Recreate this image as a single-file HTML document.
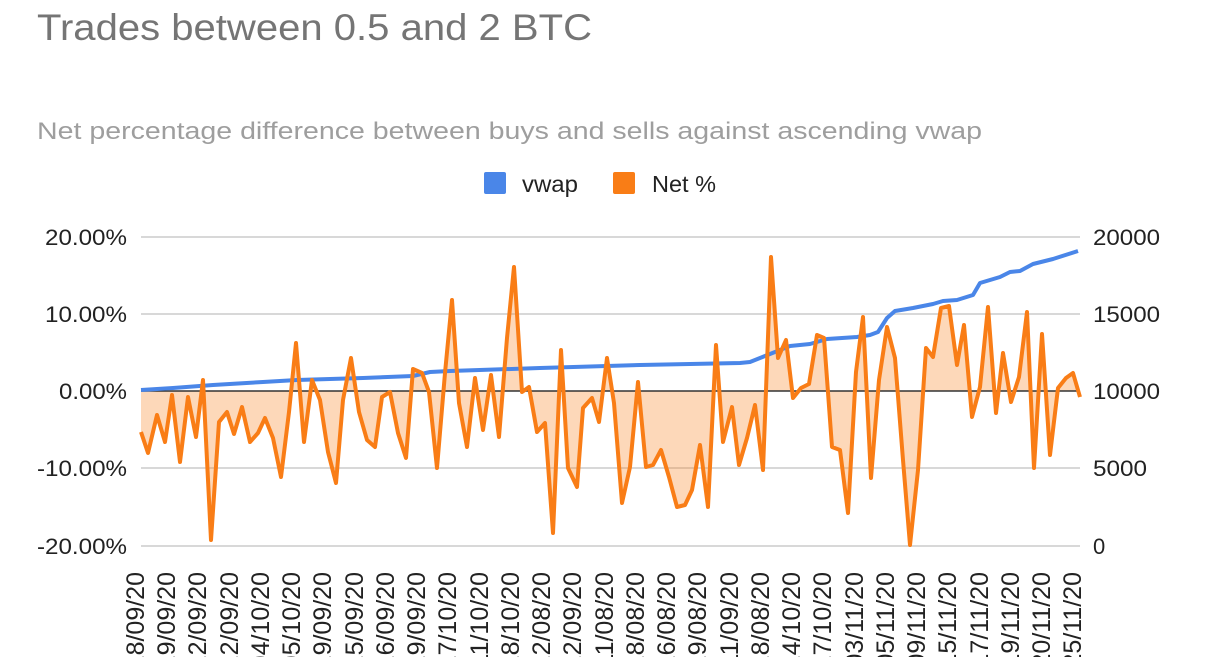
<!DOCTYPE html>
<html><head><meta charset="utf-8"><style>
html,body{margin:0;padding:0;background:#fff;}
svg{display:block;font-family:"Liberation Sans",Arial,sans-serif;}
</style></head><body>
<svg width="1207" height="657" viewBox="0 0 1207 657">
<text x="37" y="40" font-size="37" fill="#757575" textLength="555" lengthAdjust="spacingAndGlyphs">Trades between 0.5 and 2 BTC</text>
<text x="37" y="139" font-size="24" fill="#9e9e9e" textLength="945" lengthAdjust="spacingAndGlyphs">Net percentage difference between buys and sells against ascending vwap</text>
<rect x="484" y="172" width="22" height="22" rx="2" fill="#4a86e8"/>
<text x="522" y="192" font-size="23" fill="#222" textLength="56" lengthAdjust="spacingAndGlyphs">vwap</text>
<rect x="613" y="172" width="22" height="22" rx="2" fill="#f97d16"/>
<text x="652" y="192" font-size="23" fill="#222" textLength="64" lengthAdjust="spacingAndGlyphs">Net %</text>
<g stroke="#cccccc" stroke-width="1.5">
<line x1="141" y1="237" x2="1080" y2="237"/>
<line x1="141" y1="314" x2="1080" y2="314"/>
<line x1="141" y1="468" x2="1080" y2="468"/>
<line x1="141" y1="546" x2="1080" y2="546"/>
</g>
<g font-size="22" fill="#222" text-anchor="end">
<text x="127" y="245" textLength="82" lengthAdjust="spacingAndGlyphs">20.00%</text>
<text x="127" y="322" textLength="82" lengthAdjust="spacingAndGlyphs">10.00%</text>
<text x="127" y="399" textLength="68" lengthAdjust="spacingAndGlyphs">0.00%</text>
<text x="127" y="476" textLength="90" lengthAdjust="spacingAndGlyphs">-10.00%</text>
<text x="127" y="554" textLength="90" lengthAdjust="spacingAndGlyphs">-20.00%</text>
</g>
<g font-size="22" fill="#222">
<text x="1093" y="245" textLength="67" lengthAdjust="spacingAndGlyphs">20000</text>
<text x="1093" y="322" textLength="67" lengthAdjust="spacingAndGlyphs">15000</text>
<text x="1093" y="399" textLength="67" lengthAdjust="spacingAndGlyphs">10000</text>
<text x="1093" y="476" textLength="54" lengthAdjust="spacingAndGlyphs">5000</text>
<text x="1093" y="554">0</text>
</g>
<polygon fill="#f97d16" fill-opacity="0.3" points="141,391 141,432 148,453 157,415 165,442 172,395 180,462 188,397 196,437 203,380 211,540 219,422 227,412 234,434 242,407 250,442 258,433 265,418 273,438 281,477 289,412 296,343 304,442 312,380 320,400 328,452 336,483 343,400 351,358 359,412 367,440 375,447 382,397 390,392 398,433 406,458 413,369 422,373 429,392 437,468 445,373 452,300 459,403 467,447 475,378 483,430 491,375 499,437 507,338 514,267 522,392 529,387 537,432 545,423 553,533 561,350 568,468 577,487 583,408 592,398 599,422 607,358 614,403 622,503 630,467 638,382 646,467 653,465 661,450 669,477 677,507 685,505 692,490 700,445 708,507 716,345 723,442 732,407 739,465 747,438 755,405 763,470 771,257 778,358 786,340 793,398 801,388 809,384 817,335 824,338 832,447 840,450 848,513 856,372 863,317 871,478 879,380 887,327 895,358 903,460 910,545 918,470 926,348 933,357 941,308 949,306 957,365 964,325 972,417 980,387 988,307 996,413 1003,353 1011,402 1019,377 1027,312 1034,468 1042,334 1050,455 1058,388 1066,378 1073,373 1080,397 1080,391"/>
<line x1="141" y1="391" x2="1080" y2="391" stroke="#333" stroke-width="1.5"/>
<polyline fill="none" stroke="#4a86e8" stroke-width="4" stroke-linejoin="round" points="141,390 173,388 213,385 263,382 297,380 363,378 413,376 430,372 450,371 540,368 640,365 740,363 750,362 760,358 775,352 790,346 810,344 827,339 857,337 870,335 878,332 887,318 895,311 913,308 933,304 943,301 957,300 973,295 980,283 1000,277 1010,272 1020,271 1033,264 1053,259 1078,251"/>
<polyline fill="none" stroke="#f97d16" stroke-width="4" stroke-linejoin="round" points="141,432 148,453 157,415 165,442 172,395 180,462 188,397 196,437 203,380 211,540 219,422 227,412 234,434 242,407 250,442 258,433 265,418 273,438 281,477 289,412 296,343 304,442 312,380 320,400 328,452 336,483 343,400 351,358 359,412 367,440 375,447 382,397 390,392 398,433 406,458 413,369 422,373 429,392 437,468 445,373 452,300 459,403 467,447 475,378 483,430 491,375 499,437 507,338 514,267 522,392 529,387 537,432 545,423 553,533 561,350 568,468 577,487 583,408 592,398 599,422 607,358 614,403 622,503 630,467 638,382 646,467 653,465 661,450 669,477 677,507 685,505 692,490 700,445 708,507 716,345 723,442 732,407 739,465 747,438 755,405 763,470 771,257 778,358 786,340 793,398 801,388 809,384 817,335 824,338 832,447 840,450 848,513 856,372 863,317 871,478 879,380 887,327 895,358 903,460 910,545 918,470 926,348 933,357 941,308 949,306 957,365 964,325 972,417 980,387 988,307 996,413 1003,353 1011,402 1019,377 1027,312 1034,468 1042,334 1050,455 1058,388 1066,378 1073,373 1080,397"/>
<g font-size="25" fill="#222" text-anchor="end">
<text transform="translate(144,572) rotate(-90)">28/09/20</text>
<text transform="translate(175,572) rotate(-90)">19/09/20</text>
<text transform="translate(206,572) rotate(-90)">22/09/20</text>
<text transform="translate(238,572) rotate(-90)">22/09/20</text>
<text transform="translate(269,572) rotate(-90)">04/10/20</text>
<text transform="translate(300,572) rotate(-90)">05/10/20</text>
<text transform="translate(331,572) rotate(-90)">29/09/20</text>
<text transform="translate(363,572) rotate(-90)">15/09/20</text>
<text transform="translate(394,572) rotate(-90)">16/09/20</text>
<text transform="translate(425,572) rotate(-90)">19/09/20</text>
<text transform="translate(456,572) rotate(-90)">17/10/20</text>
<text transform="translate(488,572) rotate(-90)">11/10/20</text>
<text transform="translate(519,572) rotate(-90)">18/10/20</text>
<text transform="translate(550,572) rotate(-90)">12/08/20</text>
<text transform="translate(581,572) rotate(-90)">12/09/20</text>
<text transform="translate(613,572) rotate(-90)">11/08/20</text>
<text transform="translate(644,572) rotate(-90)">18/08/20</text>
<text transform="translate(675,572) rotate(-90)">16/08/20</text>
<text transform="translate(706,572) rotate(-90)">19/08/20</text>
<text transform="translate(738,572) rotate(-90)">11/09/20</text>
<text transform="translate(769,572) rotate(-90)">18/08/20</text>
<text transform="translate(800,572) rotate(-90)">24/10/20</text>
<text transform="translate(831,572) rotate(-90)">27/10/20</text>
<text transform="translate(863,572) rotate(-90)">03/11/20</text>
<text transform="translate(894,572) rotate(-90)">05/11/20</text>
<text transform="translate(925,572) rotate(-90)">09/11/20</text>
<text transform="translate(956,572) rotate(-90)">15/11/20</text>
<text transform="translate(988,572) rotate(-90)">17/11/20</text>
<text transform="translate(1019,572) rotate(-90)">19/11/20</text>
<text transform="translate(1050,572) rotate(-90)">20/11/20</text>
<text transform="translate(1081,572) rotate(-90)">25/11/20</text>
</g>
</svg>
</body></html>
